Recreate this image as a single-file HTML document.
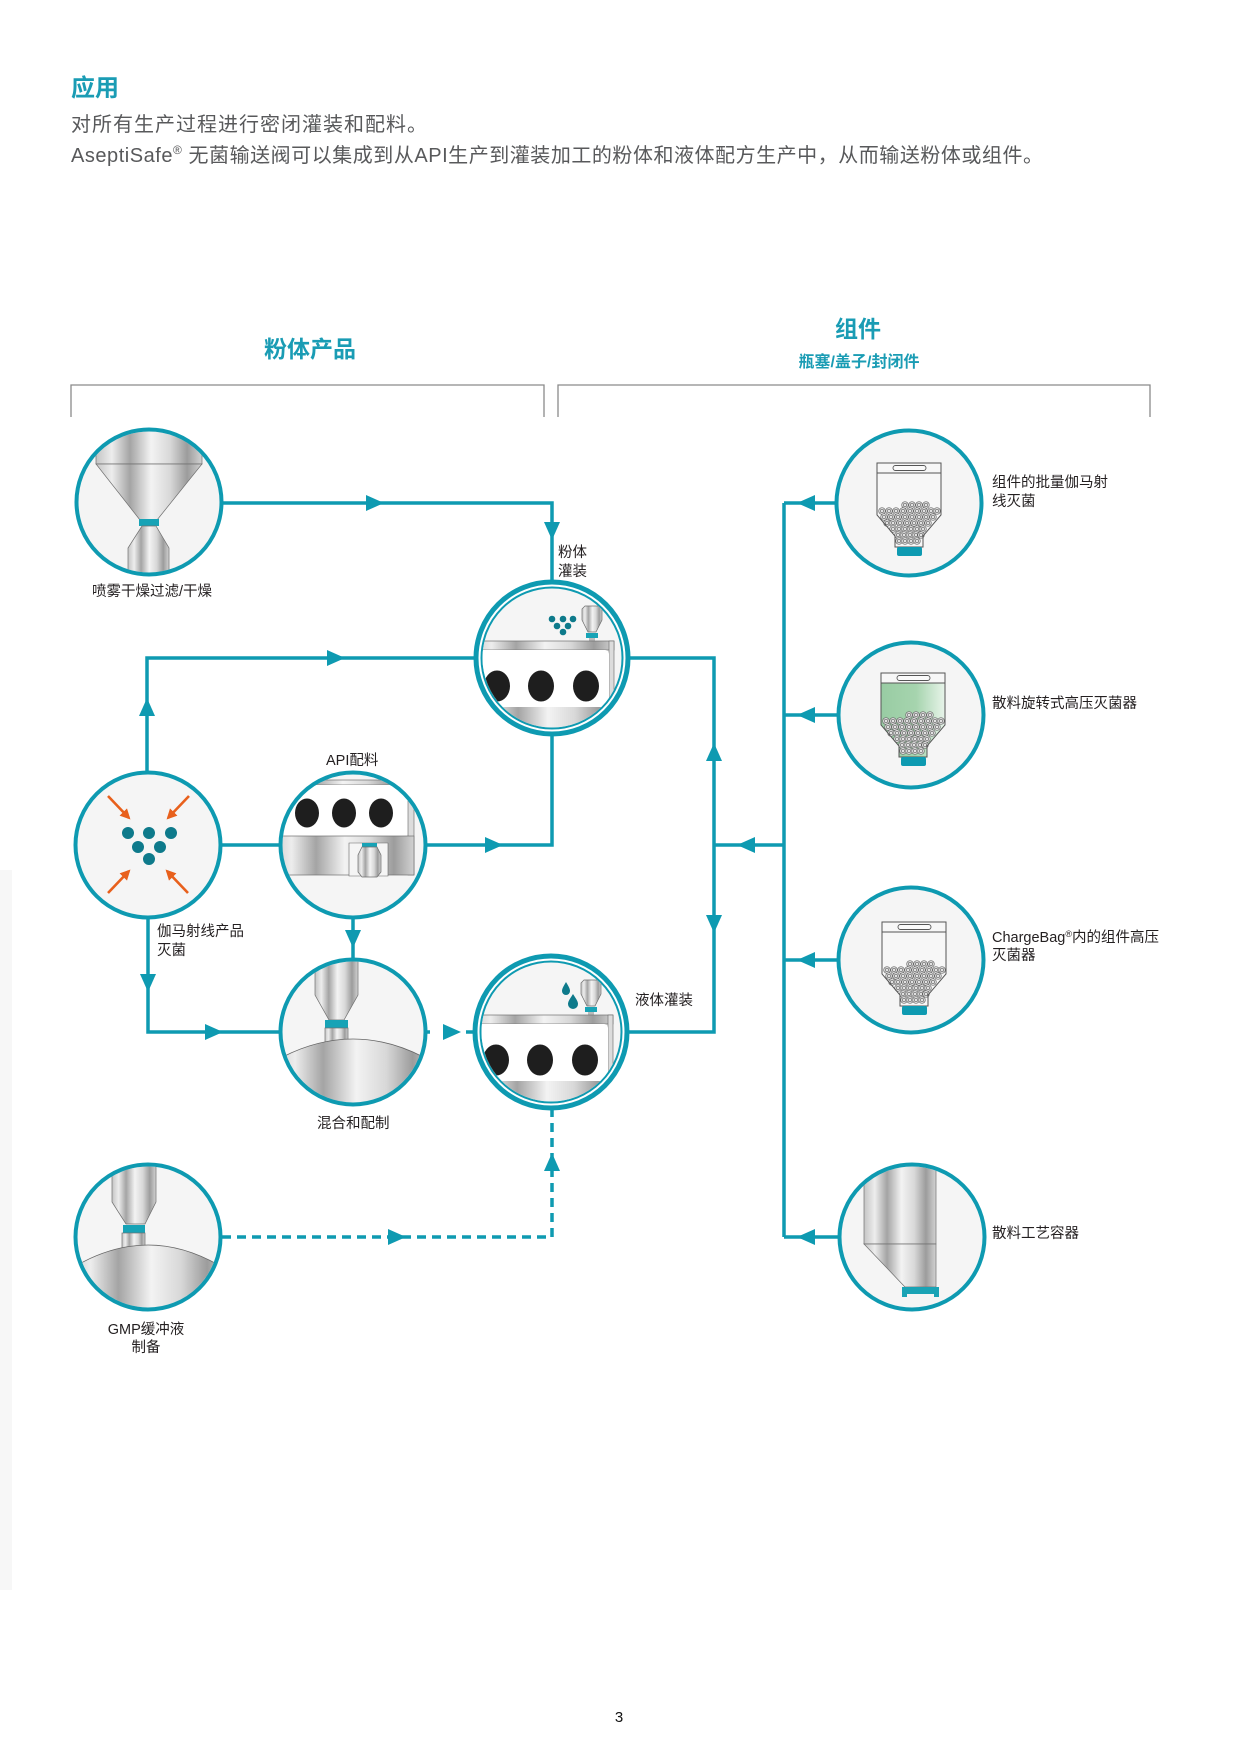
<!DOCTYPE html>
<html>
<head>
<meta charset="utf-8">
<style>
html,body{margin:0;padding:0;background:#fff;}
svg{display:block;}
.f{font-family:"Liberation Sans","Noto Sans CJK SC",sans-serif;}
.h1{font-size:24px;font-weight:bold;fill:#1a9cb4;}
.body{font-size:20px;fill:#58595b;}
.hd{font-size:23px;font-weight:bold;fill:#1a9cb4;}
.sub{font-size:16px;font-weight:bold;fill:#1a9cb4;}
.lb{font-size:14.5px;fill:#231f20;}
.ln{fill:none;stroke:#0e9ab1;stroke-width:3.5;}
.ds{fill:none;stroke:#0e9ab1;stroke-width:3.5;stroke-dasharray:9 6;}
.ar{fill:#0e9ab1;}
.ring{fill:#f5f5f5;stroke:#0e9ab1;stroke-width:4;}
.mt{fill:url(#metal);stroke:#6f6f6f;stroke-width:0.7;}
.tl{fill:#17a3b6;}
.ov{fill:#1e1e1e;}
.dt{fill:#0e7a8b;}
.oa{stroke:#e8601c;stroke-width:2.6;fill:none;}
</style>
</head>
<body>
<svg width="1240" height="1754" viewBox="0 0 1240 1754" xmlns="http://www.w3.org/2000/svg">
<defs>
  <linearGradient id="metal" x1="0" y1="0" x2="1" y2="0">
    <stop offset="0" stop-color="#c4c4c4"/>
    <stop offset="0.15" stop-color="#ededed"/>
    <stop offset="0.32" stop-color="#a4a4a4"/>
    <stop offset="0.52" stop-color="#f3f3f3"/>
    <stop offset="0.7" stop-color="#d8d8d8"/>
    <stop offset="0.86" stop-color="#9c9c9c"/>
    <stop offset="1" stop-color="#d2d2d2"/>
  </linearGradient>
  <linearGradient id="green" x1="0" y1="0" x2="1" y2="0">
    <stop offset="0" stop-color="#98cca3"/>
    <stop offset="0.55" stop-color="#a6d4ae"/>
    <stop offset="1" stop-color="#e8f4ea"/>
  </linearGradient>
  <marker id="oarr" viewBox="0 0 10 10" refX="8" refY="5" markerWidth="4" markerHeight="4" orient="auto">
    <path d="M0,0 L10,5 L0,10 z" fill="#e8601c"/>
  </marker>
  <clipPath id="cA"><circle cx="149" cy="502" r="70.5"/></clipPath>
  <clipPath id="cB"><circle cx="552" cy="658" r="69.5"/></clipPath>
  <clipPath id="cF"><circle cx="551" cy="1032" r="69.5"/></clipPath>
  <clipPath id="cD"><circle cx="353" cy="845" r="70.5"/></clipPath>
  <clipPath id="cE"><circle cx="353" cy="1032" r="70.5"/></clipPath>
  <clipPath id="cG"><circle cx="148" cy="1237" r="70.5"/></clipPath>
  <clipPath id="cK"><circle cx="912" cy="1237" r="70.5"/></clipPath>
  <g id="st">
    <circle r="3.3" fill="#e2e2e2" stroke="#6a6a6a" stroke-width="0.7"/>
    <rect x="-1.3" y="-1.3" width="2.6" height="2.6" fill="none" stroke="#555" stroke-width="0.6"/>
  </g>
  <g id="stoppers">
    <use href="#st" x="28" y="42"/><use href="#st" x="35" y="42"/><use href="#st" x="42" y="42"/><use href="#st" x="49" y="42"/>
    <use href="#st" x="5" y="48"/><use href="#st" x="12" y="48"/><use href="#st" x="19" y="48"/><use href="#st" x="26" y="48"/><use href="#st" x="33" y="48"/><use href="#st" x="40" y="48"/><use href="#st" x="47" y="48"/><use href="#st" x="54" y="48"/><use href="#st" x="60" y="48"/>
    <use href="#st" x="7" y="54"/><use href="#st" x="14" y="54"/><use href="#st" x="21" y="54"/><use href="#st" x="28" y="54"/><use href="#st" x="35" y="54"/><use href="#st" x="42" y="54"/><use href="#st" x="49" y="54"/><use href="#st" x="56" y="54"/>
    <use href="#st" x="10" y="60"/><use href="#st" x="16" y="60"/><use href="#st" x="23" y="60"/><use href="#st" x="30" y="60"/><use href="#st" x="37" y="60"/><use href="#st" x="44" y="60"/><use href="#st" x="51" y="60"/>
    <use href="#st" x="16" y="66"/><use href="#st" x="22" y="66"/><use href="#st" x="28" y="66"/><use href="#st" x="34" y="66"/><use href="#st" x="40" y="66"/><use href="#st" x="46" y="66"/>
    <use href="#st" x="21" y="72"/><use href="#st" x="27" y="72"/><use href="#st" x="33" y="72"/><use href="#st" x="39" y="72"/><use href="#st" x="44" y="72"/>
    <use href="#st" x="22" y="78"/><use href="#st" x="28" y="78"/><use href="#st" x="34" y="78"/><use href="#st" x="40" y="78"/>
  </g>
  <g id="bagframe">
    <line x1="0" y1="10" x2="64" y2="10" stroke="#555" stroke-width="1"/>
    <rect x="16" y="2.5" width="33" height="5" rx="2.5" fill="#fafafa" stroke="#555" stroke-width="0.9"/>
    <polygon points="0,0 64,0 64,52 46,73 46,84 18,84 18,73 0,52" fill="none" stroke="#555" stroke-width="1"/>
    <rect x="20" y="84" width="25" height="9" rx="2" fill="#0e9ab1"/>
  </g>
  <g id="fillmachine">
    <polygon points="582,609 585,606 599,606 602,609 602,620 596,632 588,632 582,620" class="mt"/>
    <rect x="586" y="633" width="12" height="5" class="tl"/>
    <rect x="589" y="638" width="6" height="3" fill="#bbb"/>
    <rect x="470" y="641" width="144" height="9" class="mt"/>
    <rect x="609" y="641" width="5" height="70" fill="#dcdcdc" stroke="#666" stroke-width="0.6"/>
    <rect x="470" y="650" width="139" height="57" rx="4" fill="#ffffff"/>
    <ellipse cx="497" cy="686" rx="13" ry="15.5" class="ov"/>
    <ellipse cx="541" cy="686" rx="13" ry="15.5" class="ov"/>
    <ellipse cx="586" cy="686" rx="13" ry="15.5" class="ov"/>
    <rect x="470" y="707" width="150" height="32" fill="url(#metal)"/>
  </g>
</defs>

<rect x="0" y="0" width="1240" height="1754" fill="#fff"/>
<rect x="0" y="870" width="12" height="720" fill="#f7f7f7"/>

<!-- Header text -->
<text x="71" y="96" class="f h1">应用</text>
<text x="71" y="131" class="f body" textLength="356" lengthAdjust="spacing">对所有生产过程进行密闭灌装和配料。</text>
<text x="71" y="162" class="f body" textLength="972" lengthAdjust="spacing">AseptiSafe<tspan font-size="12" dy="-8">®</tspan><tspan dy="8"> 无菌输送阀可以集成到从API生产到灌装加工的粉体和液体配方生产中，从而输送粉体或组件。</tspan></text>

<text x="310" y="357" class="f hd" text-anchor="middle">粉体产品</text>
<text x="858" y="337" class="f hd" text-anchor="middle" font-size="22">组件</text>
<text x="859" y="367" class="f sub" text-anchor="middle">瓶塞/盖子/封闭件</text>

<!-- brackets -->
<path d="M71 417 V385 H544 V417" fill="none" stroke="#8a8a8a" stroke-width="1.3"/>
<path d="M558 417 V385 H1150 V417" fill="none" stroke="#8a8a8a" stroke-width="1.3"/>

<!-- connectors -->
<path class="ln" d="M223 503 H552 V581"/>
<path class="ln" d="M147 773 V658 H474"/>
<path class="ln" d="M630 658 H714 V1032 H629"/>
<path class="ln" d="M552 736 V845 H425"/>
<path class="ln" d="M220 845 H281"/>
<path class="ln" d="M148 917 V1032 H281"/>
<path class="ln" d="M353 917 V959"/>
<path class="ln" d="M784 503 V1237"/>
<path class="ln" d="M784 503 H836 M784 715 H839 M784 960 H839 M784 1237 H840 M784 845 H714"/>
<path class="ln" d="M424 1032 H430 M466 1032 H473"/>
<path class="ds" d="M222 1237 H552 V1110"/>

<polygon class="ar" points="366,495 384,503 366,511"/>
<polygon class="ar" points="544,522 560,522 552,540"/>
<polygon class="ar" points="139,716 155,716 147,698"/>
<polygon class="ar" points="327,650 345,658 327,666"/>
<polygon class="ar" points="706,761 722,761 714,743"/>
<polygon class="ar" points="706,915 722,915 714,933"/>
<polygon class="ar" points="485,837 503,845 485,853"/>
<polygon class="ar" points="140,974 156,974 148,992"/>
<polygon class="ar" points="205,1024 223,1032 205,1040"/>
<polygon class="ar" points="345,930 361,930 353,948"/>
<polygon class="ar" points="815,495 797,503 815,511"/>
<polygon class="ar" points="815,707 797,715 815,723"/>
<polygon class="ar" points="815,952 797,960 815,968"/>
<polygon class="ar" points="815,1229 797,1237 815,1245"/>
<polygon class="ar" points="755,837 737,845 755,853"/>
<polygon class="ar" points="388,1229 406,1237 388,1245"/>
<polygon class="ar" points="544,1171 560,1171 552,1153"/>
<polygon class="ar" points="443,1024 461,1032 443,1040"/>

<!-- A: spray dryer -->
<circle cx="149" cy="502" r="72.5" fill="#f4f4f4"/>
<g clip-path="url(#cA)">
  <rect x="96" y="420" width="106" height="44" class="mt"/>
  <polygon points="96,464 202,464 157,520 140,520" class="mt"/>
  <rect x="139" y="519" width="20" height="7" class="tl"/>
  <polygon points="142,526 156,526 169,548 169,590 128,590 128,548" class="mt"/>
</g>
<circle cx="149" cy="502" r="72.5" fill="none" stroke="#0e9ab1" stroke-width="4"/>

<!-- B: powder filling -->
<circle cx="552" cy="658" r="76" fill="#fff" stroke="#0e9ab1" stroke-width="5"/>
<circle cx="552" cy="658" r="70.5" fill="#f5f5f5" stroke="#0e9ab1" stroke-width="2"/>
<g clip-path="url(#cB)">
  <use href="#fillmachine"/>
  <circle cx="552" cy="619" r="3.3" class="dt"/><circle cx="563" cy="619" r="3.3" class="dt"/><circle cx="573" cy="619" r="3.3" class="dt"/>
  <circle cx="557" cy="626" r="3.3" class="dt"/><circle cx="568" cy="626" r="3.3" class="dt"/>
  <circle cx="563" cy="632" r="3.3" class="dt"/>
</g>

<!-- F: liquid filling -->
<circle cx="551" cy="1032" r="76" fill="#fff" stroke="#0e9ab1" stroke-width="5"/>
<circle cx="551" cy="1032" r="70.5" fill="#f5f5f5" stroke="#0e9ab1" stroke-width="2"/>
<g clip-path="url(#cF)">
  <use href="#fillmachine" transform="translate(-1,374)"/>
  <path d="M566 982 C563 987 562 989 562 991 A4 4 0 0 0 570 991 C570 989 569 987 566 982 Z" class="dt"/>
  <path d="M573 994 C569 1000 568 1002 568 1004 A5 5 0 0 0 578 1004 C578 1002 577 1000 573 994 Z" class="dt"/>
</g>

<!-- C: gamma -->
<circle cx="148" cy="845" r="72.5" class="ring"/>
<circle cx="128" cy="833" r="6" class="dt"/><circle cx="149" cy="833" r="6" class="dt"/><circle cx="171" cy="833" r="6" class="dt"/>
<circle cx="138" cy="847" r="6" class="dt"/><circle cx="160" cy="847" r="6" class="dt"/>
<circle cx="149" cy="859" r="6" class="dt"/>
<line x1="108" y1="796" x2="129" y2="818" class="oa" marker-end="url(#oarr)"/>
<line x1="189" y1="796" x2="168" y2="818" class="oa" marker-end="url(#oarr)"/>
<line x1="108" y1="893" x2="129" y2="871" class="oa" marker-end="url(#oarr)"/>
<line x1="188" y1="893" x2="167" y2="871" class="oa" marker-end="url(#oarr)"/>

<!-- D: API -->
<circle cx="353" cy="845" r="72.5" fill="#f5f5f5"/>
<g clip-path="url(#cD)">
  <rect x="270" y="780" width="140" height="5" class="mt"/>
  <rect x="270" y="785" width="138" height="51" rx="3" fill="#fff"/>
  <rect x="408" y="780" width="6" height="95" fill="#dcdcdc" stroke="#666" stroke-width="0.6"/>
  <ellipse cx="307" cy="813" rx="12" ry="14.5" class="ov"/>
  <ellipse cx="344" cy="813" rx="12" ry="14.5" class="ov"/>
  <ellipse cx="381" cy="813" rx="12" ry="14.5" class="ov"/>
  <rect x="270" y="836" width="144" height="39" class="mt"/>
  <path d="M349 876 V843 H388 V876 Z" fill="#f5f5f5" stroke="#666" stroke-width="0.6"/>
  <rect x="362" y="843" width="15" height="4" class="tl"/>
  <polygon points="362,847 377,847 381,855 381,872 377,877 362,877 358,872 358,855" class="mt"/>
</g>
<circle cx="353" cy="845" r="72.5" fill="none" stroke="#0e9ab1" stroke-width="4"/>

<!-- E: mixing -->
<circle cx="353" cy="1032" r="72.5" fill="#f5f5f5"/>
<g clip-path="url(#cE)">
  <polygon points="315,955 358,955 358,995 344,1020 329,1020 315,995" class="mt"/>
  <rect x="325" y="1020" width="23" height="8" class="tl"/>
  <rect x="325" y="1028" width="23" height="16" class="mt"/>
  <path d="M270 1064 Q353 1014 436 1064 L436 1115 L270 1115 Z" fill="url(#metal)" stroke="#666" stroke-width="0.8"/>
</g>
<circle cx="353" cy="1032" r="72.5" fill="none" stroke="#0e9ab1" stroke-width="4"/>

<!-- G: GMP -->
<circle cx="148" cy="1237" r="72.5" fill="#f5f5f5"/>
<g clip-path="url(#cG)">
  <polygon points="112,1160 156,1160 156,1202 145,1224 126,1224 112,1202" class="mt"/>
  <rect x="123" y="1225" width="22" height="8" class="tl"/>
  <rect x="122" y="1233" width="23" height="16" class="mt"/>
  <path d="M66 1272 Q148 1218 230 1272 L230 1320 L66 1320 Z" fill="url(#metal)" stroke="#666" stroke-width="0.8"/>
</g>
<circle cx="148" cy="1237" r="72.5" fill="none" stroke="#0e9ab1" stroke-width="4"/>

<!-- H: bag gamma -->
<circle cx="909" cy="503" r="72.5" class="ring"/>
<g transform="translate(877,463)">
  <polygon points="0,0 64,0 64,52 46,73 46,84 18,84 18,73 0,52" fill="#f7f7f7"/>
  <use href="#stoppers"/>
  <use href="#bagframe"/>
</g>

<!-- I: rotating autoclave -->
<circle cx="911" cy="715" r="72.5" class="ring"/>
<g transform="translate(881,673)">
  <polygon points="0,10 64,10 64,52 46,73 46,84 18,84 18,73 0,52" fill="url(#green)"/>
  <rect x="0" y="0" width="64" height="10" fill="#f7f7f7"/>
  <use href="#stoppers"/>
  <use href="#bagframe"/>
</g>

<!-- J: ChargeBag -->
<circle cx="911" cy="960" r="72.5" class="ring"/>
<g transform="translate(882,922)">
  <polygon points="0,0 64,0 64,52 46,73 46,84 18,84 18,73 0,52" fill="#f7f7f7"/>
  <use href="#stoppers"/>
  <use href="#bagframe"/>
</g>

<!-- K: process container -->
<circle cx="912" cy="1237" r="72.5" fill="#f5f5f5"/>
<g clip-path="url(#cK)">
  <rect x="864" y="1150" width="72" height="94" class="mt"/>
  <polygon points="864,1244 936,1244 936,1287 905,1287" class="mt"/>
  <path d="M902 1287 H939 V1297 H934 V1294 H907 V1297 H902 Z" fill="#1aa3b5"/>
</g>
<circle cx="912" cy="1237" r="72.5" fill="none" stroke="#0e9ab1" stroke-width="4"/>

<!-- labels -->
<text x="92" y="596" class="f lb">喷雾干燥过滤/干燥</text>
<text x="558" y="557" class="f lb">粉体</text>
<text x="558" y="576" class="f lb">灌装</text>
<text x="326" y="765" class="f lb">API配料</text>
<text x="157" y="936" class="f lb">伽马射线产品</text>
<text x="157" y="955" class="f lb">灭菌</text>
<text x="317" y="1128" class="f lb">混合和配制</text>
<text x="635" y="1005" class="f lb">液体灌装</text>
<text x="146" y="1334" class="f lb" text-anchor="middle">GMP缓冲液</text>
<text x="146" y="1352" class="f lb" text-anchor="middle">制备</text>
<text x="992" y="487" class="f lb">组件的批量伽马射</text>
<text x="992" y="506" class="f lb">线灭菌</text>
<text x="992" y="708" class="f lb">散料旋转式高压灭菌器</text>
<text x="992" y="942" class="f lb">ChargeBag<tspan font-size="9" dy="-5">®</tspan><tspan dy="5">内的组件高压</tspan></text>
<text x="992" y="960" class="f lb">灭菌器</text>
<text x="992" y="1238" class="f lb">散料工艺容器</text>

<text x="619" y="1722" class="f" font-size="15" fill="#111" text-anchor="middle">3</text>
</svg>
</body>
</html>
